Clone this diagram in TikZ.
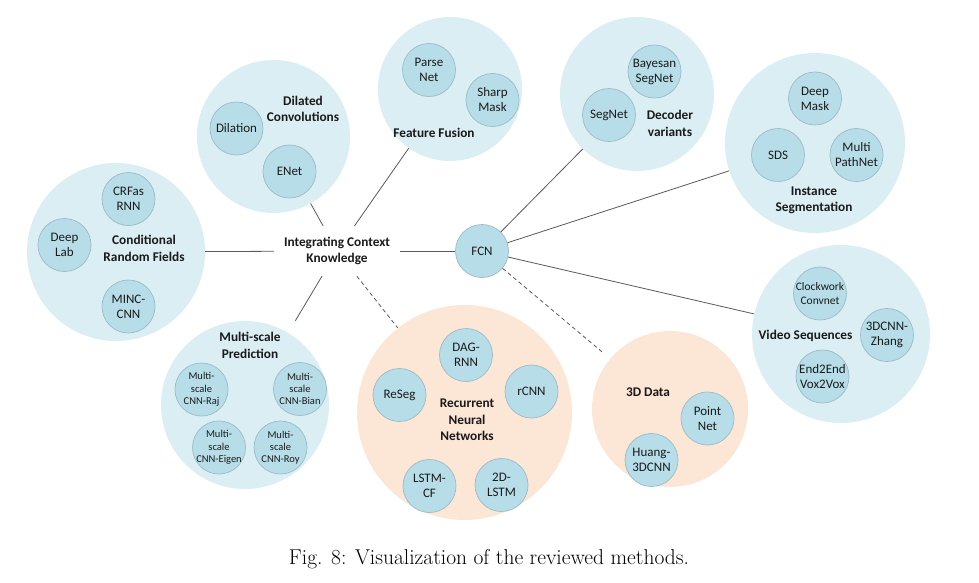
\documentclass[tikz,border=0pt]{standalone}
\usepackage{fontspec}
\newfontfamily\calib{Carlito}
\usepackage{tikz}
\definecolor{grpblue}{HTML}{DAEEF3}
\definecolor{grpwarm}{HTML}{FCE6D6}
\definecolor{methfill}{HTML}{B7DEE8}
\definecolor{methline}{HTML}{9BBBC6}
\definecolor{linkgray}{HTML}{595959}
\definecolor{ink}{HTML}{1A1A1A}
\tikzset{
  grp/.style={circle, fill=grpblue, inner sep=0pt},
  grpw/.style={circle, fill=grpwarm, inner sep=0pt},
  meth/.style={circle, draw=methline, fill=methfill, line width=0.7pt, minimum size=53pt, inner sep=-9pt, align=center, text=ink, font=\calib\fontsize{13}{15}\selectfont},
  methsm/.style={meth, font=\calib\fontsize{10.5}{12.3}\selectfont},
  methmd/.style={meth, font=\calib\fontsize{11.5}{13.3}\selectfont},
  ttl/.style={align=center, text=ink, font=\calib\bfseries\fontsize{13.3}{16.3}\selectfont},
  lnk/.style={draw=linkgray, line width=0.8pt},
  lnkd/.style={lnk, dash pattern=on 4pt off 3pt},
}

\begin{document}
\begin{tikzpicture}[x=1pt,y=-1pt]
  \useasboundingbox (0,0) rectangle (979,582);
  \node[grp,minimum size=178pt] (crf) at (116,252) {};
  \node[grp,minimum size=153pt] (dil) at (273.5,136.5) {};
  \node[grp,minimum size=144pt] (ff) at (450,89) {};
  \node[grp,minimum size=154pt] (dec) at (637,94) {};
  \node[grp,minimum size=180pt] (inst) at (815,143) {};
  \node[grp,minimum size=178pt] (vid) at (841,334) {};
  \node[grp,minimum size=168pt] (ms) at (245,405) {};
  \node[grpw,minimum size=215pt] (rnn) at (464.5,412.5) {};
  \node[grpw,minimum size=156pt] (tdd) at (670,409) {};

  \node[ttl,inner xsep=10pt,inner ysep=11pt] (ick) at (337,251) {Integrating Context\\Knowledge};
  \node[meth] (fcn) at (482,251) {FCN};

  \draw[lnk] (crf) -- (ick);
  \draw[lnk] (dil) -- (ick);
  \draw[lnk] (ff) -- (ick);
  \draw[lnk,shorten <=14pt] (ms) -- (ick);
  \draw[lnkd] (ick) -- (rnn);
  \draw[lnk] (ick) -- (fcn);
  \draw[lnk] (fcn) -- (dec);
  \draw[lnk] (fcn) -- (inst);
  \draw[lnk] (fcn) -- (vid);
  \draw[lnkd,shorten >=9pt] (fcn) -- (tdd);

  \node[ttl] (crft) at (144,248.5) {Conditional\\Random Fields};
  \node[meth] (crfrnn) at (128.5,199) {CRFas\\RNN};
  \node[meth] (deeplab) at (64.5,245) {Deep\\Lab};
  \node[meth] (minc) at (128.5,306.5) {MINC-\\CNN};

  \node[ttl] (dilt) at (303,109) {Dilated\\Convolutions};
  \node[meth] (dilation) at (236.5,128.5) {Dilation};
  \node[meth] (enet) at (289.5,171.5) {ENet};

  \node[ttl] (fft) at (434,133) {Feature Fusion};
  \node[meth] (parsenet) at (429,70) {Parse\\Net};
  \node[meth] (sharpmask) at (492.5,100) {Sharp\\Mask};

  \node[ttl] (dect) at (670,123.5) {Decoder\\variants};
  \node[meth] (bsegnet) at (654.5,71.5) {Bayesan\\SegNet};
  \node[meth] (segnet) at (609,115) {SegNet};

  \node[ttl] (instt) at (814,200) {Instance\\Segmentation};
  \node[meth] (deepmask) at (815,98.5) {Deep\\Mask};
  \node[meth] (sds) at (778,155) {SDS};
  \node[meth] (mpath) at (856.5,155) {Multi\\PathNet};

  \node[ttl] (vidt) at (805.5,336) {Video Sequences};
  \node[methmd] (clockwork) at (820,293.5) {Clockwork\\Convnet};
  \node[meth] (zhang) at (887,335) {3DCNN-\\Zhang};
  \node[meth] (vox) at (822.5,376.5) {End2End\\Vox2Vox};

  \node[ttl] (mst) at (250,345.5) {Multi-scale\\Prediction};
  \node[methsm] (raj) at (201.5,389.5) {Multi-\\scale\\CNN-Raj};
  \node[methsm] (bian) at (300,389) {Multi-\\scale\\CNN-Bian};
  \node[methsm] (eigen) at (219,447.5) {Multi-\\scale\\CNN-Eigen};
  \node[methsm] (roy) at (280.5,447.5) {Multi-\\scale\\CNN-Roy};

  \node[ttl] (rnnt) at (467,420) {Recurrent\\Neural\\Networks};
  \node[meth] (dagrnn) at (466,355) {DAG-\\RNN};
  \node[meth] (reseg) at (399.5,395) {ReSeg};
  \node[meth] (rcnn) at (531.5,391.5) {rCNN};
  \node[meth] (lstmcf) at (429.5,486) {LSTM-\\CF};
  \node[meth] (lstmtd) at (501.5,485) {2D-\\LSTM};

  \node[ttl] (tddt) at (648,392) {3D Data};
  \node[meth] (pointnet) at (707.5,418.5) {Point\\Net};
  \node[meth] (huang) at (651.5,460) {Huang-\\3DCNN};

  \node[font=\fontsize{21.5}{24}\selectfont] (cap) at (489,559) {Fig. 8: Visualization of the reviewed methods.};
\end{tikzpicture}
\end{document}
